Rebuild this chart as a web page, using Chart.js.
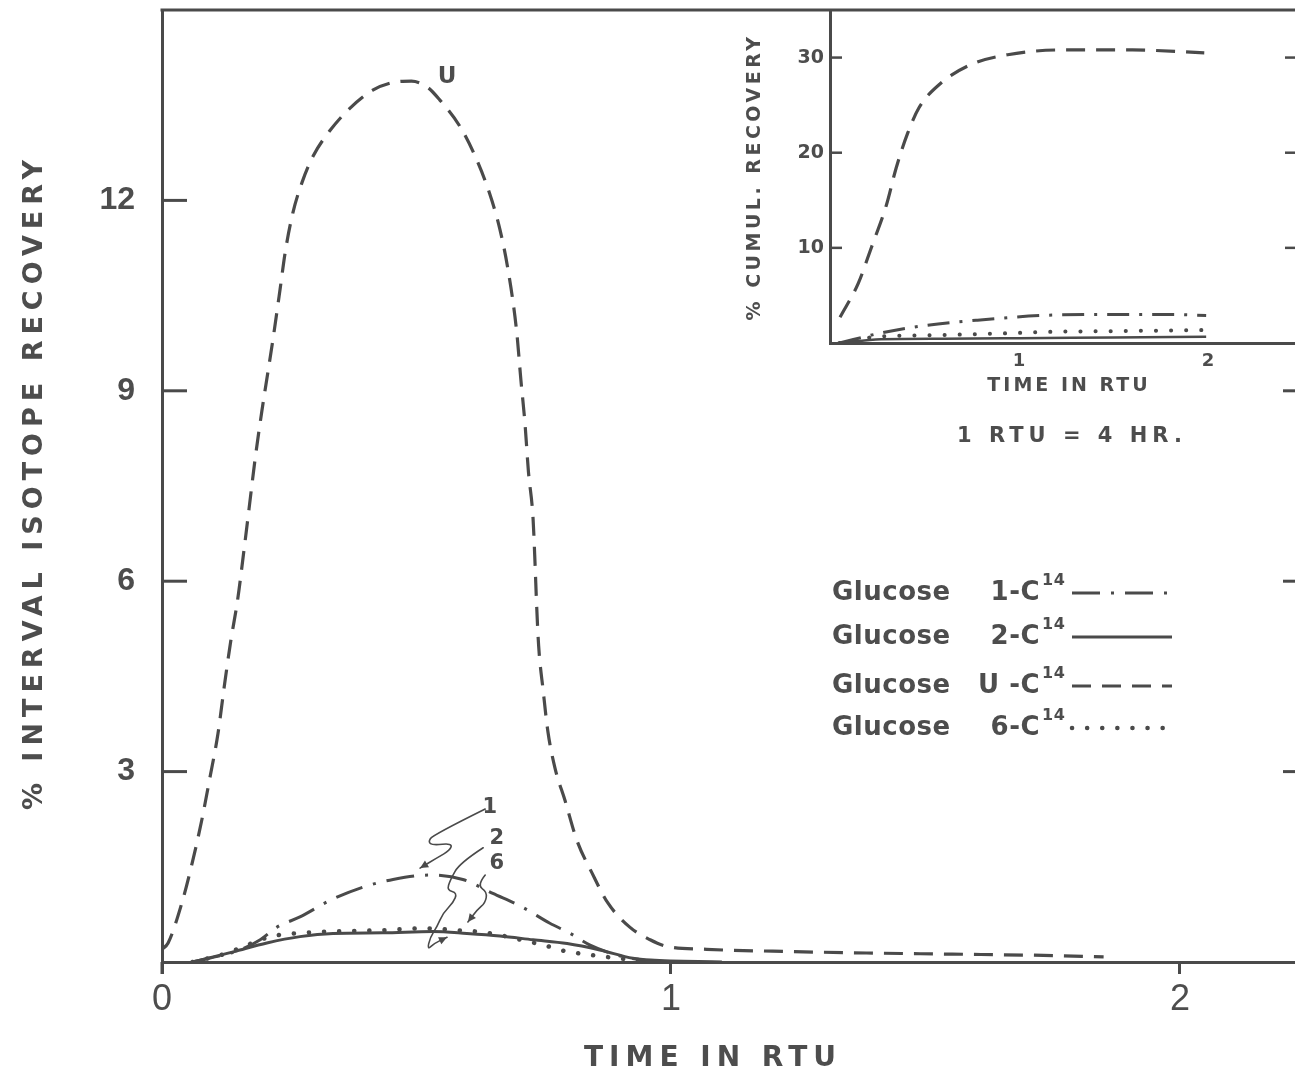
<!DOCTYPE html>
<html>
<head>
<meta charset="utf-8">
<script src="https://cdn.jsdelivr.net/npm/chart.js@4/dist/chart.umd.min.js"></script>
<style>
  html, body { margin: 0; padding: 0; background: #ffffff; overflow: hidden; }
  #wrap { position: relative; width: 1295px; height: 1075px; }
  #main { position: absolute; left: 0; top: 0; }
  #inset { position: absolute; left: 730px; top: 0; }
</style>
</head>
<body>
<div id="wrap">
  <canvas id="main" width="1295" height="1075"></canvas>
  <canvas id="inset" width="565" height="400"></canvas>
</div>
<script>
// ---------------- DATA ----------------
// Main plot: % interval isotope recovery vs time in RTU
const uTime   = [0, 0.012, 0.039, 0.059, 0.078, 0.094, 0.11, 0.122, 0.134, 0.149, 0.16, 0.171, 0.183, 0.196, 0.209, 0.218, 0.232, 0.242, 0.257, 0.275, 0.297, 0.33, 0.369, 0.415, 0.455, 0.49, 0.522, 0.546, 0.585, 0.615, 0.644, 0.664, 0.68, 0.697, 0.705, 0.713, 0.72, 0.729, 0.733, 0.736, 0.74, 0.749, 0.758, 0.772, 0.792, 0.815, 0.845, 0.876, 0.919, 0.959, 0.99, 1.07, 1.2, 1.4, 1.59, 1.76, 1.85];
const uValues = [0.2, 0.3, 0.93, 1.55, 2.23, 2.9, 3.6, 4.32, 5.0, 5.73, 6.42, 7.14, 7.93, 8.67, 9.34, 9.81, 10.6, 11.18, 11.8, 12.28, 12.7, 13.1, 13.45, 13.74, 13.86, 13.88, 13.78, 13.58, 13.17, 12.7, 12.1, 11.54, 10.9, 9.92, 9.18, 8.5, 7.72, 6.99, 6.26, 5.63, 4.98, 4.27, 3.64, 3.06, 2.54, 1.92, 1.4, 0.93, 0.55, 0.35, 0.25, 0.2, 0.17, 0.14, 0.12, 0.1, 0.08];

const c1Time   = [0.06, 0.153, 0.193, 0.226, 0.271, 0.33, 0.395, 0.454, 0.527, 0.591, 0.65, 0.709, 0.762, 0.8, 0.84, 0.894, 0.945, 1.0];
const c1Values = [0, 0.19, 0.35, 0.55, 0.71, 0.97, 1.18, 1.3, 1.37, 1.3, 1.08, 0.86, 0.61, 0.46, 0.27, 0.11, 0.03, 0];

const c2Time   = [0.06, 0.14, 0.206, 0.271, 0.336, 0.434, 0.532, 0.599, 0.664, 0.729, 0.796, 0.86, 0.925, 0.96, 1.1];
const c2Values = [0, 0.16, 0.3, 0.4, 0.45, 0.46, 0.48, 0.45, 0.41, 0.35, 0.29, 0.19, 0.06, 0.03, 0];

const c6Time   = [0.06, 0.12, 0.16, 0.193, 0.226, 0.26, 0.33, 0.43, 0.52, 0.58, 0.63, 0.678, 0.72, 0.749, 0.782, 0.815, 0.854, 0.894, 0.95];
const c6Values = [0, 0.12, 0.24, 0.35, 0.42, 0.45, 0.48, 0.5, 0.53, 0.5, 0.47, 0.4, 0.32, 0.27, 0.19, 0.14, 0.1, 0.06, 0.02];

// Inset: % cumulative recovery vs time in RTU
const cumUTime   = [0.053, 0.15, 0.22, 0.3, 0.35, 0.41, 0.47, 0.58, 0.75, 0.94, 1.22, 1.6, 1.98];
const cumUValues = [2.7, 6.3, 10.1, 14.6, 18.4, 22.0, 24.7, 27.2, 29.3, 30.3, 30.8, 30.8, 30.5];
const cum1Time   = [0.05, 0.27, 0.49, 0.78, 1.13, 1.47, 1.78, 1.99];
const cum1Values = [0, 1.05, 1.8, 2.4, 2.9, 3.0, 3.0, 2.9];
const cum2Time   = [0.05, 0.27, 0.6, 1.0, 1.5, 1.99];
const cum2Values = [0, 0.4, 0.45, 0.5, 0.58, 0.65];
const cum6Time   = [0.05, 0.27, 0.5, 0.9, 1.18, 1.5, 1.99];
const cum6Values = [0, 0.7, 0.8, 1.0, 1.18, 1.25, 1.36];

// Tick labels
const xTickValues      = [0, 1, 2];
const yTickValues      = [3, 6, 9, 12];
const yRightTickValues = [3, 6, 9];
const insetXTickValues = [1, 2];
const insetYTickValues = [10, 20, 30];

// Text
const xTitle = 'TIME IN RTU';
const yTitle = '% INTERVAL ISOTOPE RECOVERY';
const insetXTitle = 'TIME IN RTU';
const insetYTitle = '% CUMUL. RECOVERY';
const noteText = '1 RTU = 4 HR.';
const legendNames  = ['Glucose', 'Glucose', 'Glucose', 'Glucose'];
const legendLabels = ['1-C', '2-C', 'U -C', '6-C'];
const legendSup    = '14';

// Hand annotations (in data units)
const curveLabels = [{t: 'U', x: 0.56, y: 13.94}, {t: '1', x: 0.644, y: 2.43}, {t: '2', x: 0.658, y: 1.95}, {t: '6', x: 0.658, y: 1.55}];
const arrowPaths = [
  [[0.635,2.41],[0.532,2.0],[0.523,1.89],[0.532,1.84],[0.570,1.87],[0.566,1.76],[0.540,1.64],[0.507,1.48]],
  [[0.631,1.80],[0.585,1.56],[0.566,1.29],[0.560,1.13],[0.580,1.09],[0.572,0.93],[0.552,0.77],[0.540,0.55],[0.527,0.39],[0.521,0.19],[0.536,0.30],[0.560,0.39]],
  [[0.635,1.37],[0.619,1.21],[0.639,1.10],[0.635,0.93],[0.619,0.82],[0.601,0.63]]
];

// ---------------- STYLE ----------------
const INK = '#4a4a4a';
const TEXT = '#4d4d4d';
const BOLD = '"DejaVu Sans", "Liberation Sans", sans-serif';
const PLAIN = '"Liberation Sans", "DejaVu Sans", sans-serif';

const pts = (xs, ys) => xs.map((x, i) => ({x: x, y: ys[i]}));

const styles = {
  c1: {borderDash: [28, 11, 3, 11], borderWidth: 3, borderCapStyle: 'butt'},
  c2: {borderDash: [], borderWidth: 3, borderCapStyle: 'butt'},
  u:  {borderDash: [19, 11], borderWidth: 3.2, borderCapStyle: 'butt'},
  c6: {borderDash: [0.1, 15], borderWidth: 4.5, borderCapStyle: 'round'}
};

function ds(label, xs, ys, st) {
  return Object.assign({
    label: label, data: pts(xs, ys), showLine: true, pointRadius: 0,
    borderColor: INK, backgroundColor: INK, fill: false,
    cubicInterpolationMode: 'monotone'
  }, st);
}

function spaced(ctx, text, x, y, font, spacing, align, rot) {
  ctx.save();
  ctx.translate(x, y);
  if (rot) ctx.rotate(rot);
  ctx.font = font;
  ctx.letterSpacing = spacing + 'px';
  ctx.fillStyle = TEXT;
  ctx.textAlign = align || 'center';
  ctx.textBaseline = 'middle';
  ctx.fillText(text, 0, 0);
  ctx.restore();
}

function line(ctx, x1, y1, x2, y2) {
  ctx.beginPath(); ctx.moveTo(x1, y1); ctx.lineTo(x2, y2); ctx.stroke();
}

const noPadY = s => { s.paddingTop = 0; s.paddingBottom = 0; };
const noPadX = s => { s.paddingLeft = 0; s.paddingRight = 0; };

const mainDecor = {
  id: 'mainDecor',
  afterDraw(chart) {
    const {ctx, chartArea: a, scales: {x, y}} = chart;
    ctx.save();
    ctx.strokeStyle = INK; ctx.lineWidth = 3; ctx.lineCap = 'butt';
    line(ctx, a.left - 1.5, a.top, a.right, a.top);
    line(ctx, a.left, a.bottom, a.left, a.bottom + 12);
    yTickValues.forEach(v => { const p = y.getPixelForValue(v); line(ctx, a.left, p, a.left + 25, p); });
    yRightTickValues.forEach(v => { const p = y.getPixelForValue(v); line(ctx, a.right - 12, p, a.right, p); });

    // axis titles
    spaced(ctx, xTitle, 713, 1059, 'bold 28px ' + BOLD, 6, 'center', 0);
    spaced(ctx, yTitle, 35, 482, 'bold 27px ' + BOLD, 6, 'center', -Math.PI / 2);
    spaced(ctx, noteText, 1072, 437, 'bold 21px ' + BOLD, 5, 'center', 0);

    // legend
    const rowsY = [593, 637, 686, 728];
    const dsOrder = [1, 2, 0, 3]; // dataset indices: c1, c2, u, c6
    rowsY.forEach((yy, i) => {
      spaced(ctx, legendNames[i], 832, yy, 'bold 26px ' + BOLD, 0.5, 'left', 0);
      spaced(ctx, legendLabels[i], 1040, yy, 'bold 26px ' + BOLD, 0.5, 'right', 0);
      spaced(ctx, legendSup, 1042, yy - 12, 'bold 16px ' + BOLD, 0.5, 'left', 0);
      const d = chart.data.datasets[dsOrder[i]];
      ctx.save();
      ctx.strokeStyle = INK;
      ctx.lineWidth = d.borderWidth;
      ctx.lineCap = d.borderCapStyle;
      ctx.setLineDash(d.borderDash);
      line(ctx, 1072, yy, 1172, yy);
      ctx.restore();
    });

    // curve labels and hand-drawn arrows
    curveLabels.forEach((c, i) => {
      spaced(ctx, c.t, x.getPixelForValue(c.x), y.getPixelForValue(c.y), 'bold ' + (i === 0 ? 23 : 21) + 'px ' + BOLD, 0, 'center', 0);
    });
    ctx.lineWidth = 1.6; ctx.lineJoin = 'round'; ctx.lineCap = 'round';
    arrowPaths.forEach(path => {
      const P = path.map(p => [x.getPixelForValue(p[0]), y.getPixelForValue(p[1])]);
      ctx.beginPath();
      ctx.moveTo(P[0][0], P[0][1]);
      for (let i = 1; i < P.length - 1; i++) {
        const mx = (P[i][0] + P[i + 1][0]) / 2, my = (P[i][1] + P[i + 1][1]) / 2;
        ctx.quadraticCurveTo(P[i][0], P[i][1], mx, my);
      }
      ctx.lineTo(P[P.length - 1][0], P[P.length - 1][1]);
      ctx.stroke();
      const e = P[P.length - 1], s = P[P.length - 2];
      const ang = Math.atan2(e[1] - s[1], e[0] - s[0]);
      ctx.beginPath();
      ctx.moveTo(e[0], e[1]);
      ctx.lineTo(e[0] - 9 * Math.cos(ang - 0.45), e[1] - 9 * Math.sin(ang - 0.45));
      ctx.lineTo(e[0] - 9 * Math.cos(ang + 0.45), e[1] - 9 * Math.sin(ang + 0.45));
      ctx.closePath();
      ctx.fillStyle = INK; ctx.fill();
    });
    ctx.restore();
  }
};

const insetDecor = {
  id: 'insetDecor',
  afterDraw(chart) {
    const {ctx, chartArea: a, scales: {y}} = chart;
    ctx.save();
    ctx.strokeStyle = INK; ctx.lineWidth = 2.5;
    insetYTickValues.forEach(v => {
      const p = y.getPixelForValue(v);
      line(ctx, a.left, p, a.left + 12, p);
      line(ctx, a.right - 10, p, a.right, p);
    });
    spaced(ctx, insetXTitle, 339, 386, 'bold 19px ' + BOLD, 3, 'center', 0);
    spaced(ctx, insetYTitle, 25, 177, 'bold 19px ' + BOLD, 3.5, 'center', -Math.PI / 2);
    ctx.restore();
  }
};

Chart.defaults.animation = false;

new Chart(document.getElementById('main'), {
  type: 'scatter',
  data: {
    datasets: [
      ds('Glucose U-C14', uTime, uValues, styles.u),
      ds('Glucose 1-C14', c1Time, c1Values, styles.c1),
      ds('Glucose 2-C14', c2Time, c2Values, styles.c2),
      ds('Glucose 6-C14', c6Time, c6Values, styles.c6)
    ]
  },
  options: {
    responsive: false,
    devicePixelRatio: 1,
    layout: {padding: {top: 10, right: 0, left: 0, bottom: 0}},
    plugins: {legend: {display: false}, tooltip: {enabled: false}},
    scales: {
      x: {
        type: 'linear', min: 0, max: 2.226,
        afterBuildTicks: s => { s.ticks = xTickValues.map(v => ({value: v})); },
        afterFit: s => { s.height = 113; noPadX(s); },
        border: {display: true, color: INK, width: 3},
        grid: {display: true, drawOnChartArea: false, drawTicks: true, tickLength: 12, tickWidth: 3, color: INK},
        ticks: {font: {family: PLAIN, size: 36}, color: TEXT, padding: 4, maxRotation: 0, callback: v => String(v)}
      },
      y: {
        type: 'linear', min: 0, max: 15,
        afterBuildTicks: s => { s.ticks = yTickValues.map(v => ({value: v})); },
        afterFit: s => { s.width = 162; noPadY(s); },
        border: {display: true, color: INK, width: 3},
        grid: {display: false, drawTicks: false},
        ticks: {font: {family: PLAIN, size: 32, weight: 'bold'}, color: TEXT, padding: 27, callback: v => String(v)}
      }
    }
  },
  plugins: [mainDecor]
});

new Chart(document.getElementById('inset'), {
  type: 'scatter',
  data: {
    datasets: [
      ds('Cumulative U-C14', cumUTime, cumUValues, styles.u),
      ds('Cumulative 1-C14', cum1Time, cum1Values, {borderDash: [22, 10, 3, 10], borderWidth: 3, borderCapStyle: 'butt'}),
      ds('Cumulative 2-C14', cum2Time, cum2Values, {borderDash: [], borderWidth: 2.5, borderCapStyle: 'butt'}),
      ds('Cumulative 6-C14', cum6Time, cum6Values, {borderDash: [0.1, 15], borderWidth: 4, borderCapStyle: 'round'})
    ]
  },
  options: {
    responsive: false,
    devicePixelRatio: 1,
    layout: {padding: {top: 10, right: 0, left: 0, bottom: 0}},
    plugins: {legend: {display: false}, tooltip: {enabled: false}},
    scales: {
      x: {
        type: 'linear', min: 0, max: 2.46,
        afterBuildTicks: s => { s.ticks = insetXTickValues.map(v => ({value: v})); },
        afterFit: s => { s.height = 57; noPadX(s); },
        border: {display: true, color: INK, width: 3},
        grid: {display: false, drawTicks: false},
        ticks: {font: {family: BOLD, size: 18, weight: 'bold'}, color: TEXT, padding: 8, maxRotation: 0, callback: v => String(v)}
      },
      y: {
        type: 'linear', min: 0, max: 35,
        afterBuildTicks: s => { s.ticks = insetYTickValues.map(v => ({value: v})); },
        afterFit: s => { s.width = 100; noPadY(s); },
        border: {display: true, color: INK, width: 3},
        grid: {display: false, drawTicks: false},
        ticks: {font: {family: BOLD, size: 19, weight: 'bold'}, color: TEXT, padding: 6, callback: v => String(v)}
      }
    }
  },
  plugins: [insetDecor]
});
</script>
</body>
</html>
